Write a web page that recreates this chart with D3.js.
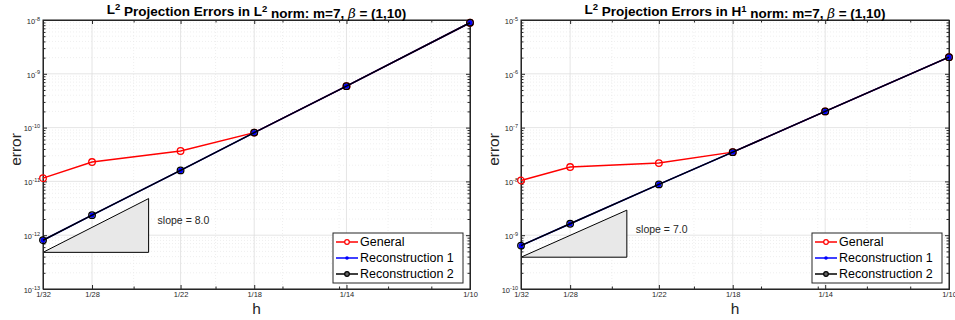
<!DOCTYPE html>
<html>
<head>
<meta charset="utf-8">
<script src="https://cdn.jsdelivr.net/npm/d3@7"></script>
<style>
  body { margin: 0; background: #fff; }
  svg { font-family: "Liberation Sans", Arial, sans-serif; }
  .grid-major { stroke: #dedede; stroke-width: 0.8; }
  .grid-minor { stroke: #e8e8e8; stroke-width: 0.7; stroke-dasharray: 1,2; }
  .axis path, .axis line { stroke: #262626; }
  .axis text { fill: #262626; font-size: 7.5px; }
</style>
</head>
<body>
<div id="chart"></div>
<script>
// Data
var hValues = [1/32, 1/28, 1/22, 1/18, 1/14, 1/10];
var hLabels = ["1/32", "1/28", "1/22", "1/18", "1/14", "1/10"];
var hMinor = [0.04, 0.05, 0.06, 0.07, 0.08, 0.09];

// L2 norm panel
var l2General = [1.15e-11, 2.29e-11, 3.67e-11, 8.07e-11, 5.9e-10, 8.9e-9];
var l2Recon1 = [8.07e-13, 2.36e-12, 1.6e-11, 8.07e-11, 5.9e-10, 8.9e-9];
var l2Recon2 = [8.07e-13, 2.36e-12, 1.6e-11, 8.07e-11, 5.9e-10, 8.9e-9];

// H1 norm panel
var h1General = [1.04e-8, 1.85e-8, 2.19e-8, 3.5e-8, 2.0e-7, 2.04e-6];
var h1Recon1 = [6.4e-10, 1.63e-9, 8.8e-9, 3.5e-8, 2.0e-7, 2.04e-6];
var h1Recon2 = [6.4e-10, 1.63e-9, 8.8e-9, 3.5e-8, 2.0e-7, 2.04e-6];

var seriesNames = ["General", "Reconstruction 1", "Reconstruction 2"];
var seriesColors = ["#ff0000", "#0000ff", "#000000"];

// slope triangles: from h=1/32 to h=1/24
var triH = [1/32, 1/24];
var l2TriBase = 4.8e-13, l2Slope = 8;
var h1TriBase = 3.9e-10, h1Slope = 7;

var panels = [
  { left: 43, right: 470, yExp: [-13, -8], normLetter: "L", normSup: "2",
    series: [l2General, l2Recon1, l2Recon2], triBase: l2TriBase, slope: l2Slope },
  { left: 521, right: 949, yExp: [-10, -5], normLetter: "H", normSup: "1",
    series: [h1General, h1Recon1, h1Recon2], triBase: h1TriBase, slope: h1Slope }
];

var svgWidth = 955, svgHeight = 320;
var plotTop = 20, plotBottom = 289;

var svg = d3.select("#chart").append("svg")
  .attr("width", svgWidth)
  .attr("height", svgHeight);

panels.forEach(function(p) {
  var width = p.right - p.left;
  var height = plotBottom - plotTop;
  var g = svg.append("g").attr("transform", `translate(${p.left}, ${plotTop})`);

  var x = d3.scaleLog().domain([1/32, 1/10]).range([0, width]);
  var y = d3.scaleLog().domain([Math.pow(10, p.yExp[0]), Math.pow(10, p.yExp[1])]).range([height, 0]);

  var majorY = d3.range(p.yExp[0], p.yExp[1] + 1).map(e => Math.pow(10, e));
  var minorY = [];
  d3.range(p.yExp[0], p.yExp[1]).forEach(function(e) {
    for (var k = 2; k <= 9; k++) minorY.push(k * Math.pow(10, e));
  });

  // minor grid
  g.selectAll(".gmy").data(minorY).enter().append("line")
    .attr("class", "grid-minor")
    .attr("x1", 0).attr("x2", width)
    .attr("y1", d => y(d)).attr("y2", d => y(d));
  g.selectAll(".gmx").data(hMinor).enter().append("line")
    .attr("class", "grid-minor")
    .attr("x1", d => x(d)).attr("x2", d => x(d))
    .attr("y1", 0).attr("y2", height);

  // major grid
  g.selectAll(".gy").data(majorY).enter().append("line")
    .attr("class", "grid-major")
    .attr("x1", 0).attr("x2", width)
    .attr("y1", d => y(d)).attr("y2", d => y(d));
  g.selectAll(".gx").data(hValues).enter().append("line")
    .attr("class", "grid-major")
    .attr("x1", d => x(d)).attr("x2", d => x(d))
    .attr("y1", 0).attr("y2", height);

  // slope triangle
  var triTop = p.triBase * Math.pow(triH[1] / triH[0], p.slope);
  var triPts = [[triH[0], p.triBase], [triH[1], p.triBase], [triH[1], triTop]];
  g.append("path")
    .attr("d", d3.line().x(d => x(d[0])).y(d => y(d[1]))(triPts) + "Z")
    .attr("fill", "#e8e8e8")
    .attr("stroke", "#000")
    .attr("stroke-width", 1);

  var textY = p.triBase * Math.pow(triH[1] / triH[0], p.slope * 0.6);
  g.append("text")
    .attr("x", x(triH[1]) + 9)
    .attr("y", y(textY))
    .attr("dy", "0.35em")
    .style("font-size", "10.5px")
    .style("fill", "#262626")
    .text("slope = " + p.slope.toFixed(1));

  // axes: bottom with labels, others ticks only
  var xAxisB = g.append("g").attr("class", "axis")
    .attr("transform", `translate(0, ${height})`)
    .call(d3.axisBottom(x).tickValues(hValues).tickFormat((d, i) => hLabels[i]).tickSizeInner(-4).tickSizeOuter(0).tickPadding(4));
  g.append("g").attr("class", "axis")
    .attr("transform", `translate(0, ${height})`)
    .call(d3.axisBottom(x).tickValues(hMinor).tickFormat("").tickSizeInner(-2.5).tickSizeOuter(0));
  g.append("g").attr("class", "axis")
    .call(d3.axisTop(x).tickValues(hValues).tickFormat("").tickSizeInner(-4).tickSizeOuter(0));
  g.append("g").attr("class", "axis")
    .call(d3.axisTop(x).tickValues(hMinor).tickFormat("").tickSizeInner(-2.5).tickSizeOuter(0));

  var yAxisL = g.append("g").attr("class", "axis")
    .call(d3.axisLeft(y).tickValues(majorY).tickFormat(d => "").tickSizeInner(-4).tickSizeOuter(0).tickPadding(3));
  g.append("g").attr("class", "axis")
    .call(d3.axisLeft(y).tickValues(minorY).tickFormat("").tickSizeInner(-2.5).tickSizeOuter(0));
  g.append("g").attr("class", "axis")
    .attr("transform", `translate(${width}, 0)`)
    .call(d3.axisRight(y).tickValues(majorY).tickFormat("").tickSizeInner(-4).tickSizeOuter(0));
  g.append("g").attr("class", "axis")
    .attr("transform", `translate(${width}, 0)`)
    .call(d3.axisRight(y).tickValues(minorY).tickFormat("").tickSizeInner(-2.5).tickSizeOuter(0));

  // y tick labels as 10^e
  yAxisL.selectAll(".tick text").each(function(d) {
    var t = d3.select(this).attr("x", -3).attr("dy", "0.45em");
    t.append("tspan").text("10");
    t.append("tspan").attr("dy", "-0.6em").style("font-size", "5.5px").text(Math.round(Math.log10(d)));
  });
  xAxisB.selectAll(".tick text").attr("dy", "0.55em");

  // box
  g.append("rect")
    .attr("width", width).attr("height", height)
    .attr("fill", "none").attr("stroke", "#262626").attr("stroke-width", 1);

  // series lines and markers
  var line = d3.line().x((d, i) => x(hValues[i])).y(d => y(d));
  p.series.forEach(function(vals, s) {
    g.append("path")
      .datum(vals)
      .attr("d", line)
      .attr("fill", "none")
      .attr("stroke", seriesColors[s])
      .attr("stroke-width", 1.5);
    var m = g.selectAll(".m" + s).data(vals).enter().append("circle")
      .attr("class", "m" + s)
      .attr("cx", (d, i) => x(hValues[i]))
      .attr("cy", d => y(d));
    if (s === 0) m.attr("r", 3.3).attr("fill", "none").attr("stroke", "#ff0000").attr("stroke-width", 1.3);
    if (s === 1) m.attr("r", 2.6).attr("fill", "#0000ff");
    if (s === 2) m.attr("r", 3.3).attr("fill", "none").attr("stroke", "#000").attr("stroke-width", 1.3);
  });

  // legend
  var lg = g.append("g").attr("transform", `translate(${width - 137}, ${height - 56})`);
  lg.append("rect")
    .attr("width", 130).attr("height", 50)
    .attr("fill", "#fff").attr("stroke", "#262626").attr("stroke-width", 1);
  seriesNames.forEach(function(name, s) {
    var yy = 9 + s * 16;
    lg.append("line").attr("x1", 3).attr("x2", 25).attr("y1", yy).attr("y2", yy)
      .attr("stroke", seriesColors[s]).attr("stroke-width", 1.5);
    var c = lg.append("circle").attr("cx", 14).attr("cy", yy);
    if (s === 0) c.attr("r", 2.3).attr("fill", "#fff").attr("stroke", "#ff0000").attr("stroke-width", 1.2);
    if (s === 1) c.attr("r", 1.8).attr("fill", "#0000ff");
    if (s === 2) c.attr("r", 2.3).attr("fill", "#666").attr("stroke", "#000").attr("stroke-width", 1.2);
    lg.append("text").attr("x", 27).attr("y", yy).attr("dy", "0.35em")
      .style("font-size", "12.5px").style("fill", "#000").text(name);
  });

  // title with superscripts and italic beta
  var title = g.append("text")
    .attr("x", width / 2).attr("y", -6)
    .attr("text-anchor", "middle")
    .style("font-size", "13.5px").style("font-weight", "bold").style("fill", "#000");
  title.append("tspan").text("L");
  title.append("tspan").attr("dy", "-0.45em").style("font-size", "9.5px").text("2");
  title.append("tspan").attr("dy", "0.45em").text(" Projection Errors in " + p.normLetter);
  title.append("tspan").attr("dy", "-0.45em").style("font-size", "9.5px").text(p.normSup);
  title.append("tspan").attr("dy", "0.45em").text(" norm: m=7, ");
  title.append("tspan").style("font-style", "italic").style("font-weight", "normal")
    .style("font-family", "'DejaVu Serif', serif").text("β");
  title.append("tspan").text(" = (1,10)");

  // axis labels
  g.append("text")
    .attr("x", width / 2).attr("y", height + 25)
    .attr("text-anchor", "middle")
    .style("font-size", "15.5px").style("fill", "#262626")
    .text("h");
  g.append("text")
    .attr("transform", "rotate(-90)")
    .attr("x", -height / 2 + 5).attr("y", -22)
    .attr("text-anchor", "middle")
    .style("font-size", "15.5px").style("fill", "#262626")
    .text("error");
});
</script>
</body>
</html>
